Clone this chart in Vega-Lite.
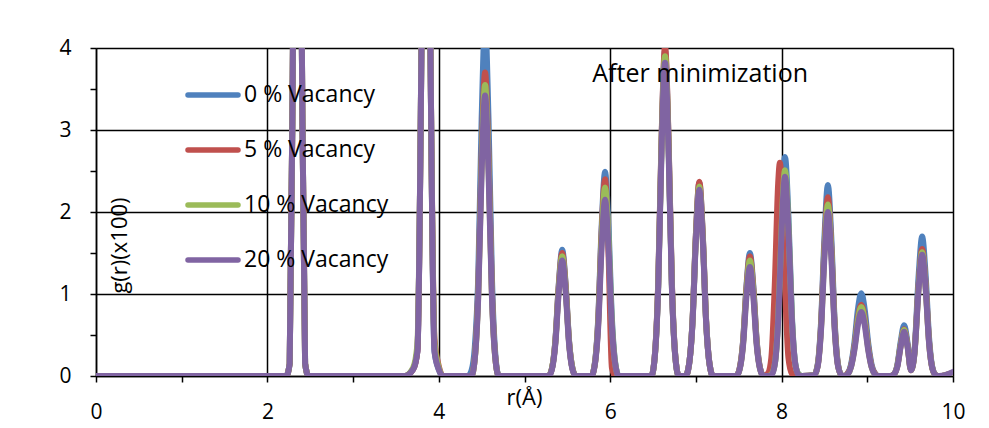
{
  "$schema": "https://vega.github.io/schema/vega-lite/v6.json",
  "width": 857,
  "height": 328,
  "autosize": "none",
  "padding": {"left": 96, "top": 48, "right": 36, "bottom": 52},
  "background": "white",
  "config": {"view": {"stroke": null}, "font": "Open Sans"},
  "data": {
    "values": [
      {"r": 0, "0 % Vacancy": 0, "5 % Vacancy": 0, "10 % Vacancy": 0, "20 % Vacancy": 0},
      {"r": 2.22, "0 % Vacancy": 0, "5 % Vacancy": 0, "10 % Vacancy": 0, "20 % Vacancy": 0},
      {"r": 2.26, "0 % Vacancy": 0.15, "5 % Vacancy": 0.15, "10 % Vacancy": 0.15, "20 % Vacancy": 0.15},
      {"r": 2.30, "0 % Vacancy": 4.3, "5 % Vacancy": 4.3, "10 % Vacancy": 4.3, "20 % Vacancy": 4.3},
      {"r": 2.35, "0 % Vacancy": 12, "5 % Vacancy": 12, "10 % Vacancy": 12, "20 % Vacancy": 12},
      {"r": 2.40, "0 % Vacancy": 4.3, "5 % Vacancy": 4.3, "10 % Vacancy": 4.3, "20 % Vacancy": 4.3},
      {"r": 2.44, "0 % Vacancy": 0.15, "5 % Vacancy": 0.15, "10 % Vacancy": 0.15, "20 % Vacancy": 0.15},
      {"r": 2.48, "0 % Vacancy": 0, "5 % Vacancy": 0, "10 % Vacancy": 0, "20 % Vacancy": 0},
      {"r": 3.60, "0 % Vacancy": 0, "5 % Vacancy": 0, "10 % Vacancy": 0, "20 % Vacancy": 0},
      {"r": 3.70, "0 % Vacancy": 0.08, "5 % Vacancy": 0.08, "10 % Vacancy": 0.1, "20 % Vacancy": 0.08},
      {"r": 3.75, "0 % Vacancy": 0.3, "5 % Vacancy": 0.3, "10 % Vacancy": 0.38, "20 % Vacancy": 0.3},
      {"r": 3.80, "0 % Vacancy": 4.3, "5 % Vacancy": 4.3, "10 % Vacancy": 4.3, "20 % Vacancy": 4.3},
      {"r": 3.85, "0 % Vacancy": 12, "5 % Vacancy": 12, "10 % Vacancy": 12, "20 % Vacancy": 12},
      {"r": 3.90, "0 % Vacancy": 4.3, "5 % Vacancy": 4.3, "10 % Vacancy": 4.3, "20 % Vacancy": 4.3},
      {"r": 3.95, "0 % Vacancy": 0.3, "5 % Vacancy": 0.45, "10 % Vacancy": 0.4, "20 % Vacancy": 0.3},
      {"r": 4.00, "0 % Vacancy": 0.08, "5 % Vacancy": 0.12, "10 % Vacancy": 0.1, "20 % Vacancy": 0.08},
      {"r": 4.05, "0 % Vacancy": 0, "5 % Vacancy": 0, "10 % Vacancy": 0, "20 % Vacancy": 0},
      {"r": 4.34, "0 % Vacancy": 0, "5 % Vacancy": 0, "10 % Vacancy": 0, "20 % Vacancy": 0},
      {"r": 4.38, "0 % Vacancy": 0.06, "5 % Vacancy": 0, "10 % Vacancy": 0, "20 % Vacancy": 0},
      {"r": 4.42, "0 % Vacancy": 0.35, "5 % Vacancy": 0.22, "10 % Vacancy": 0.21, "20 % Vacancy": 0.21},
      {"r": 4.46, "0 % Vacancy": 1.2, "5 % Vacancy": 1.04, "10 % Vacancy": 0.99, "20 % Vacancy": 0.96},
      {"r": 4.50, "0 % Vacancy": 3.14, "5 % Vacancy": 2.7, "10 % Vacancy": 2.59, "20 % Vacancy": 2.5},
      {"r": 4.54, "0 % Vacancy": 4.3, "5 % Vacancy": 3.7, "10 % Vacancy": 3.55, "20 % Vacancy": 3.42},
      {"r": 4.58, "0 % Vacancy": 3.14, "5 % Vacancy": 2.7, "10 % Vacancy": 2.59, "20 % Vacancy": 2.5},
      {"r": 4.62, "0 % Vacancy": 1.2, "5 % Vacancy": 1.04, "10 % Vacancy": 0.99, "20 % Vacancy": 0.96},
      {"r": 4.66, "0 % Vacancy": 0.26, "5 % Vacancy": 0.22, "10 % Vacancy": 0.21, "20 % Vacancy": 0.21},
      {"r": 4.70, "0 % Vacancy": 0, "5 % Vacancy": 0, "10 % Vacancy": 0, "20 % Vacancy": 0},
      {"r": 5.28, "0 % Vacancy": 0, "5 % Vacancy": 0, "10 % Vacancy": 0, "20 % Vacancy": 0},
      {"r": 5.32, "0 % Vacancy": 0.09, "5 % Vacancy": 0.09, "10 % Vacancy": 0.09, "20 % Vacancy": 0.08},
      {"r": 5.36, "0 % Vacancy": 0.43, "5 % Vacancy": 0.42, "10 % Vacancy": 0.41, "20 % Vacancy": 0.39},
      {"r": 5.40, "0 % Vacancy": 1.12, "5 % Vacancy": 1.1, "10 % Vacancy": 1.07, "20 % Vacancy": 1.03},
      {"r": 5.44, "0 % Vacancy": 1.54, "5 % Vacancy": 1.5, "10 % Vacancy": 1.46, "20 % Vacancy": 1.41},
      {"r": 5.48, "0 % Vacancy": 1.12, "5 % Vacancy": 1.1, "10 % Vacancy": 1.07, "20 % Vacancy": 1.03},
      {"r": 5.52, "0 % Vacancy": 0.43, "5 % Vacancy": 0.42, "10 % Vacancy": 0.41, "20 % Vacancy": 0.39},
      {"r": 5.56, "0 % Vacancy": 0.09, "5 % Vacancy": 0.09, "10 % Vacancy": 0.09, "20 % Vacancy": 0.08},
      {"r": 5.60, "0 % Vacancy": 0, "5 % Vacancy": 0, "10 % Vacancy": 0, "20 % Vacancy": 0},
      {"r": 5.78, "0 % Vacancy": 0, "5 % Vacancy": 0, "10 % Vacancy": 0, "20 % Vacancy": 0},
      {"r": 5.82, "0 % Vacancy": 0.15, "5 % Vacancy": 0.14, "10 % Vacancy": 0.14, "20 % Vacancy": 0.13},
      {"r": 5.86, "0 % Vacancy": 0.7, "5 % Vacancy": 0.67, "10 % Vacancy": 0.64, "20 % Vacancy": 0.6},
      {"r": 5.90, "0 % Vacancy": 1.82, "5 % Vacancy": 1.75, "10 % Vacancy": 1.68, "20 % Vacancy": 1.57},
      {"r": 5.94, "0 % Vacancy": 2.49, "5 % Vacancy": 2.4, "10 % Vacancy": 2.3, "20 % Vacancy": 2.15},
      {"r": 5.98, "0 % Vacancy": 1.82, "5 % Vacancy": 1.5, "10 % Vacancy": 1.68, "20 % Vacancy": 1.57},
      {"r": 6.02, "0 % Vacancy": 0.7, "5 % Vacancy": 0.1, "10 % Vacancy": 0.64, "20 % Vacancy": 0.6},
      {"r": 6.06, "0 % Vacancy": 0.15, "5 % Vacancy": 0, "10 % Vacancy": 0.14, "20 % Vacancy": 0.13},
      {"r": 6.10, "0 % Vacancy": 0, "5 % Vacancy": 0, "10 % Vacancy": 0, "20 % Vacancy": 0},
      {"r": 6.48, "0 % Vacancy": 0, "5 % Vacancy": 0, "10 % Vacancy": 0, "20 % Vacancy": 0},
      {"r": 6.52, "0 % Vacancy": 0.24, "5 % Vacancy": 0.24, "10 % Vacancy": 0.23, "20 % Vacancy": 0.23},
      {"r": 6.56, "0 % Vacancy": 1.11, "5 % Vacancy": 1.13, "10 % Vacancy": 1.09, "20 % Vacancy": 1.07},
      {"r": 6.60, "0 % Vacancy": 2.9, "5 % Vacancy": 2.93, "10 % Vacancy": 2.85, "20 % Vacancy": 2.79},
      {"r": 6.64, "0 % Vacancy": 3.97, "5 % Vacancy": 4.02, "10 % Vacancy": 3.9, "20 % Vacancy": 3.82},
      {"r": 6.68, "0 % Vacancy": 2.9, "5 % Vacancy": 2.93, "10 % Vacancy": 2.85, "20 % Vacancy": 2.79},
      {"r": 6.72, "0 % Vacancy": 1.11, "5 % Vacancy": 1.13, "10 % Vacancy": 1.09, "20 % Vacancy": 1.07},
      {"r": 6.76, "0 % Vacancy": 0.24, "5 % Vacancy": 0.24, "10 % Vacancy": 0.23, "20 % Vacancy": 0.23},
      {"r": 6.80, "0 % Vacancy": 0, "5 % Vacancy": 0, "10 % Vacancy": 0, "20 % Vacancy": 0},
      {"r": 6.88, "0 % Vacancy": 0, "5 % Vacancy": 0, "10 % Vacancy": 0, "20 % Vacancy": 0},
      {"r": 6.92, "0 % Vacancy": 0.14, "5 % Vacancy": 0.14, "10 % Vacancy": 0.14, "20 % Vacancy": 0.14},
      {"r": 6.96, "0 % Vacancy": 0.66, "5 % Vacancy": 0.66, "10 % Vacancy": 0.65, "20 % Vacancy": 0.64},
      {"r": 7.00, "0 % Vacancy": 1.72, "5 % Vacancy": 1.73, "10 % Vacancy": 1.69, "20 % Vacancy": 1.66},
      {"r": 7.04, "0 % Vacancy": 2.36, "5 % Vacancy": 2.37, "10 % Vacancy": 2.31, "20 % Vacancy": 2.27},
      {"r": 7.08, "0 % Vacancy": 1.72, "5 % Vacancy": 1.73, "10 % Vacancy": 1.69, "20 % Vacancy": 1.66},
      {"r": 7.12, "0 % Vacancy": 0.66, "5 % Vacancy": 0.66, "10 % Vacancy": 0.65, "20 % Vacancy": 0.64},
      {"r": 7.16, "0 % Vacancy": 0.14, "5 % Vacancy": 0.14, "10 % Vacancy": 0.14, "20 % Vacancy": 0.14},
      {"r": 7.20, "0 % Vacancy": 0, "5 % Vacancy": 0, "10 % Vacancy": 0, "20 % Vacancy": 0},
      {"r": 7.47, "0 % Vacancy": 0, "5 % Vacancy": 0, "10 % Vacancy": 0, "20 % Vacancy": 0},
      {"r": 7.51, "0 % Vacancy": 0.09, "5 % Vacancy": 0.09, "10 % Vacancy": 0.08, "20 % Vacancy": 0.08},
      {"r": 7.55, "0 % Vacancy": 0.42, "5 % Vacancy": 0.41, "10 % Vacancy": 0.39, "20 % Vacancy": 0.37},
      {"r": 7.59, "0 % Vacancy": 1.1, "5 % Vacancy": 1.07, "10 % Vacancy": 1.03, "20 % Vacancy": 0.97},
      {"r": 7.63, "0 % Vacancy": 1.5, "5 % Vacancy": 1.46, "10 % Vacancy": 1.41, "20 % Vacancy": 1.33},
      {"r": 7.67, "0 % Vacancy": 1.1, "5 % Vacancy": 1.07, "10 % Vacancy": 1.03, "20 % Vacancy": 0.97},
      {"r": 7.71, "0 % Vacancy": 0.42, "5 % Vacancy": 0.41, "10 % Vacancy": 0.39, "20 % Vacancy": 0.37},
      {"r": 7.75, "0 % Vacancy": 0.09, "5 % Vacancy": 0.09, "10 % Vacancy": 0.08, "20 % Vacancy": 0.08},
      {"r": 7.79, "0 % Vacancy": 0, "5 % Vacancy": 0, "10 % Vacancy": 0, "20 % Vacancy": 0},
      {"r": 7.84, "0 % Vacancy": 0, "5 % Vacancy": 0.03, "10 % Vacancy": 0, "20 % Vacancy": 0},
      {"r": 7.88, "0 % Vacancy": 0.02, "5 % Vacancy": 0.22, "10 % Vacancy": 0.02, "20 % Vacancy": 0.01},
      {"r": 7.92, "0 % Vacancy": 0.15, "5 % Vacancy": 1.1, "10 % Vacancy": 0.14, "20 % Vacancy": 0.14},
      {"r": 7.96, "0 % Vacancy": 0.74, "5 % Vacancy": 2.35, "10 % Vacancy": 0.7, "20 % Vacancy": 0.68},
      {"r": 7.98, "0 % Vacancy": 1.3, "5 % Vacancy": 2.6, "10 % Vacancy": 1.22, "20 % Vacancy": 1.18},
      {"r": 8.00, "0 % Vacancy": 1.94, "5 % Vacancy": 2.35, "10 % Vacancy": 1.82, "20 % Vacancy": 1.76},
      {"r": 8.04, "0 % Vacancy": 2.67, "5 % Vacancy": 1.1, "10 % Vacancy": 2.51, "20 % Vacancy": 2.43},
      {"r": 8.08, "0 % Vacancy": 1.94, "5 % Vacancy": 0.22, "10 % Vacancy": 1.82, "20 % Vacancy": 1.76},
      {"r": 8.12, "0 % Vacancy": 0.74, "5 % Vacancy": 0.03, "10 % Vacancy": 0.7, "20 % Vacancy": 0.68},
      {"r": 8.16, "0 % Vacancy": 0.15, "5 % Vacancy": 0, "10 % Vacancy": 0.14, "20 % Vacancy": 0.14},
      {"r": 8.20, "0 % Vacancy": 0.02, "5 % Vacancy": 0, "10 % Vacancy": 0.02, "20 % Vacancy": 0.01},
      {"r": 8.24, "0 % Vacancy": 0, "5 % Vacancy": 0, "10 % Vacancy": 0, "20 % Vacancy": 0},
      {"r": 8.38, "0 % Vacancy": 0.01, "5 % Vacancy": 0.01, "10 % Vacancy": 0.01, "20 % Vacancy": 0.01},
      {"r": 8.42, "0 % Vacancy": 0.13, "5 % Vacancy": 0.12, "10 % Vacancy": 0.12, "20 % Vacancy": 0.11},
      {"r": 8.46, "0 % Vacancy": 0.65, "5 % Vacancy": 0.61, "10 % Vacancy": 0.58, "20 % Vacancy": 0.56},
      {"r": 8.50, "0 % Vacancy": 1.69, "5 % Vacancy": 1.58, "10 % Vacancy": 1.52, "20 % Vacancy": 1.45},
      {"r": 8.54, "0 % Vacancy": 2.33, "5 % Vacancy": 2.18, "10 % Vacancy": 2.09, "20 % Vacancy": 2.0},
      {"r": 8.58, "0 % Vacancy": 1.69, "5 % Vacancy": 1.58, "10 % Vacancy": 1.52, "20 % Vacancy": 1.45},
      {"r": 8.62, "0 % Vacancy": 0.65, "5 % Vacancy": 0.61, "10 % Vacancy": 0.58, "20 % Vacancy": 0.56},
      {"r": 8.66, "0 % Vacancy": 0.13, "5 % Vacancy": 0.12, "10 % Vacancy": 0.12, "20 % Vacancy": 0.11},
      {"r": 8.70, "0 % Vacancy": 0.01, "5 % Vacancy": 0.01, "10 % Vacancy": 0.01, "20 % Vacancy": 0.01},
      {"r": 8.73, "0 % Vacancy": 0, "5 % Vacancy": 0, "10 % Vacancy": 0, "20 % Vacancy": 0},
      {"r": 8.77, "0 % Vacancy": 0.03, "5 % Vacancy": 0.03, "10 % Vacancy": 0.02, "20 % Vacancy": 0.02},
      {"r": 8.81, "0 % Vacancy": 0.14, "5 % Vacancy": 0.12, "10 % Vacancy": 0.11, "20 % Vacancy": 0.11},
      {"r": 8.85, "0 % Vacancy": 0.41, "5 % Vacancy": 0.36, "10 % Vacancy": 0.34, "20 % Vacancy": 0.32},
      {"r": 8.89, "0 % Vacancy": 0.81, "5 % Vacancy": 0.7, "10 % Vacancy": 0.67, "20 % Vacancy": 0.62},
      {"r": 8.93, "0 % Vacancy": 1.01, "5 % Vacancy": 0.87, "10 % Vacancy": 0.84, "20 % Vacancy": 0.78},
      {"r": 8.97, "0 % Vacancy": 0.81, "5 % Vacancy": 0.7, "10 % Vacancy": 0.67, "20 % Vacancy": 0.62},
      {"r": 9.01, "0 % Vacancy": 0.41, "5 % Vacancy": 0.36, "10 % Vacancy": 0.34, "20 % Vacancy": 0.32},
      {"r": 9.05, "0 % Vacancy": 0.14, "5 % Vacancy": 0.12, "10 % Vacancy": 0.11, "20 % Vacancy": 0.11},
      {"r": 9.09, "0 % Vacancy": 0.03, "5 % Vacancy": 0.03, "10 % Vacancy": 0.02, "20 % Vacancy": 0.02},
      {"r": 9.13, "0 % Vacancy": 0, "5 % Vacancy": 0, "10 % Vacancy": 0, "20 % Vacancy": 0},
      {"r": 9.27, "0 % Vacancy": 0, "5 % Vacancy": 0, "10 % Vacancy": 0, "20 % Vacancy": 0},
      {"r": 9.31, "0 % Vacancy": 0.02, "5 % Vacancy": 0.02, "10 % Vacancy": 0.02, "20 % Vacancy": 0.02},
      {"r": 9.35, "0 % Vacancy": 0.13, "5 % Vacancy": 0.12, "10 % Vacancy": 0.12, "20 % Vacancy": 0.11},
      {"r": 9.39, "0 % Vacancy": 0.42, "5 % Vacancy": 0.38, "10 % Vacancy": 0.38, "20 % Vacancy": 0.36},
      {"r": 9.43, "0 % Vacancy": 0.62, "5 % Vacancy": 0.57, "10 % Vacancy": 0.56, "20 % Vacancy": 0.54},
      {"r": 9.47, "0 % Vacancy": 0.4, "5 % Vacancy": 0.37, "10 % Vacancy": 0.36, "20 % Vacancy": 0.35},
      {"r": 9.51, "0 % Vacancy": 0.08, "5 % Vacancy": 0.07, "10 % Vacancy": 0.07, "20 % Vacancy": 0.07},
      {"r": 9.55, "0 % Vacancy": 0.3, "5 % Vacancy": 0.28, "10 % Vacancy": 0.27, "20 % Vacancy": 0.27},
      {"r": 9.60, "0 % Vacancy": 1.24, "5 % Vacancy": 1.13, "10 % Vacancy": 1.1, "20 % Vacancy": 1.08},
      {"r": 9.64, "0 % Vacancy": 1.7, "5 % Vacancy": 1.55, "10 % Vacancy": 1.51, "20 % Vacancy": 1.48},
      {"r": 9.68, "0 % Vacancy": 1.24, "5 % Vacancy": 1.13, "10 % Vacancy": 1.1, "20 % Vacancy": 1.08},
      {"r": 9.72, "0 % Vacancy": 0.48, "5 % Vacancy": 0.43, "10 % Vacancy": 0.42, "20 % Vacancy": 0.41},
      {"r": 9.76, "0 % Vacancy": 0.1, "5 % Vacancy": 0.09, "10 % Vacancy": 0.09, "20 % Vacancy": 0.09},
      {"r": 9.80, "0 % Vacancy": 0.01, "5 % Vacancy": 0.01, "10 % Vacancy": 0.01, "20 % Vacancy": 0.01},
      {"r": 9.84, "0 % Vacancy": 0, "5 % Vacancy": 0, "10 % Vacancy": 0, "20 % Vacancy": 0},
      {"r": 10, "0 % Vacancy": 0.02, "5 % Vacancy": 0.04, "10 % Vacancy": 0.04, "20 % Vacancy": 0.05}
    ]
  },
  "layer": [
    {
      "transform": [
        {"fold": ["0 % Vacancy", "5 % Vacancy", "10 % Vacancy", "20 % Vacancy"], "as": ["series", "g"]}
      ],
      "mark": {"type": "line", "interpolate": "monotone", "strokeWidth": 6, "strokeCap": "round", "strokeJoin": "round", "clip": true},
      "encoding": {
        "x": {
          "field": "r",
          "type": "quantitative",
          "scale": {"domain": [0, 10], "nice": false, "zero": false},
          "axis": {
            "values": [0, 1, 2, 3, 4, 5, 6, 7, 8, 9, 10],
            "format": "~g",
            "title": "r(Å)",
            "titleFont": "Open Sans",
            "titleFontSize": 22,
            "titleFontWeight": "normal",
            "titleColor": "black",
            "titleX": 428,
            "titleY": 21,
            "titleAlign": "center",
            "titleBaseline": "middle",
            "labelExpr": "datum.value % 2 === 0 ? datum.label : ''",
            "labelFont": "Open Sans",
            "labelFontSize": 21,
            "labelColor": "black",
            "labelPadding": 19,
            "labelFlush": false,
            "labelOverlap": false,
            "tickSize": 6,
            "tickColor": "black",
            "tickWidth": 1.5,
            "domainColor": "black",
            "domainWidth": 1.5,
            "grid": true,
            "gridColor": "black",
            "gridWidth": 1.5,
            "gridOpacity": {"condition": {"test": "datum.value % 2 === 0", "value": 1}, "value": 0}
          }
        },
        "y": {
          "field": "g",
          "type": "quantitative",
          "scale": {"domain": [0, 4], "nice": false},
          "axis": {
            "values": [0, 0.5, 1, 1.5, 2, 2.5, 3, 3.5, 4],
            "format": "~g",
            "title": "g(r)(x100)",
            "titleFont": "Open Sans",
            "titleFontSize": 22,
            "titleFontWeight": "normal",
            "titleColor": "black",
            "titleAngle": 270,
            "titleX": 30,
            "titleY": 197,
            "titleAlign": "center",
            "titleBaseline": "alphabetic",
            "labelExpr": "datum.value % 1 === 0 ? datum.label : ''",
            "labelFont": "Open Sans",
            "labelFontSize": 21,
            "labelColor": "black",
            "labelPadding": 19,
            "labelFlush": false,
            "labelOverlap": false,
            "tickSize": 6,
            "tickColor": "black",
            "tickWidth": 1.5,
            "domainColor": "black",
            "domainWidth": 1.5,
            "grid": true,
            "gridColor": "black",
            "gridWidth": 1.5,
            "gridOpacity": {"condition": {"test": "datum.value % 1 === 0", "value": 1}, "value": 0}
          }
        },
        "color": {
          "field": "series",
          "type": "nominal",
          "scale": {
            "domain": ["0 % Vacancy", "5 % Vacancy", "10 % Vacancy", "20 % Vacancy"],
            "range": ["#4F81BD", "#C0504D", "#9BBB59", "#8064A2"]
          },
          "legend": {
            "orient": "none",
            "legendX": 89,
            "legendY": 19,
            "title": null,
            "padding": 0,
            "symbolType": "stroke",
            "symbolSize": 2500,
            "symbolStrokeWidth": 5.5,
            "labelFont": "Open Sans",
            "labelFontSize": 23,
            "labelColor": "black",
            "labelOffset": 3,
            "labelLimit": 300,
            "rowPadding": 15,
            "encode": {"symbols": {"update": {"strokeCap": {"value": "round"}}}}
          }
        }
      }
    },
    {
      "data": {"values": [{"x": 7.05, "y": 3.585, "label": "After minimization"}]},
      "mark": {"type": "text", "font": "Open Sans", "fontSize": 25, "align": "center", "baseline": "alphabetic", "color": "black"},
      "encoding": {
        "x": {"field": "x", "type": "quantitative"},
        "y": {"field": "y", "type": "quantitative"},
        "text": {"field": "label"}
      }
    }
  ]
}
